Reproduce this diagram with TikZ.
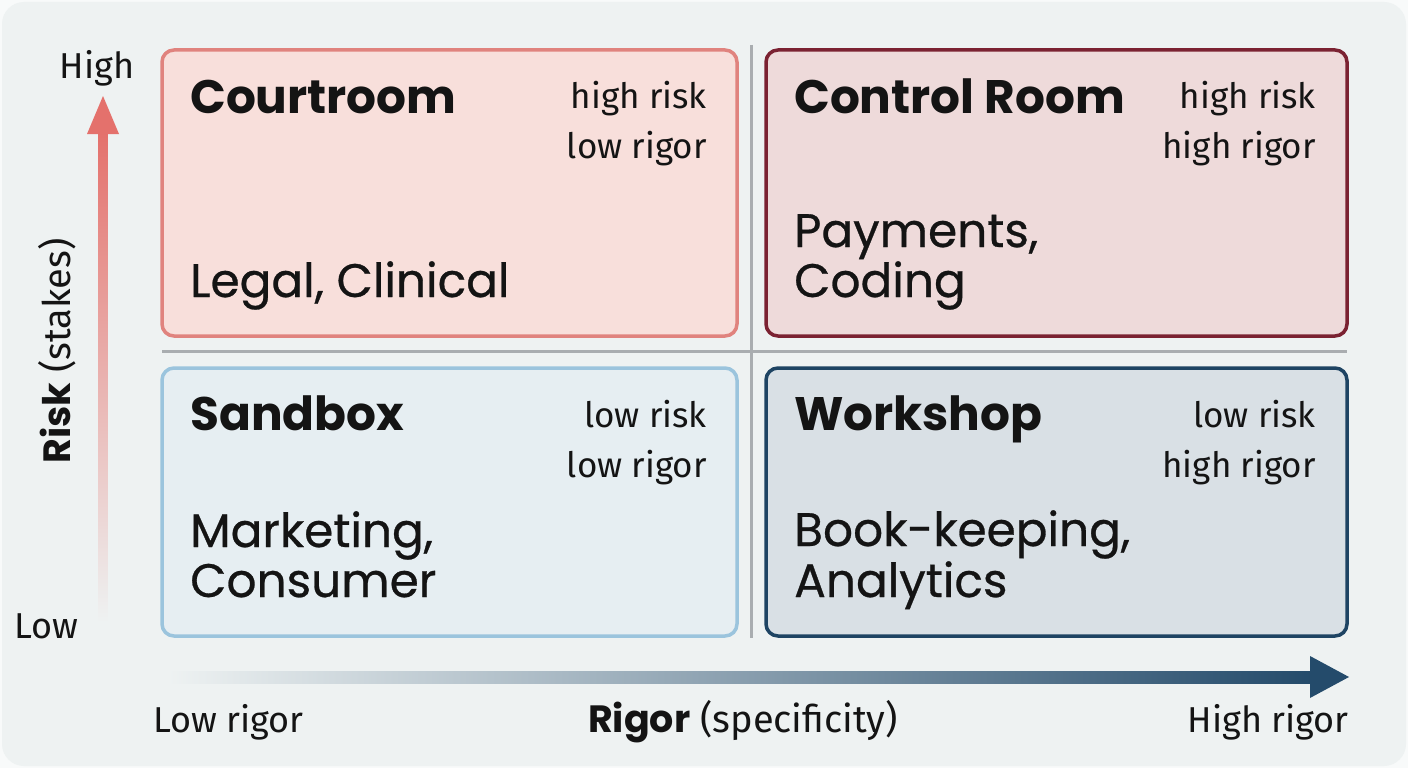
\documentclass[tikz,border=0pt]{standalone}
\usepackage{fontspec}
\setmainfont{Fira Sans}
\newfontfamily\headfont{Poppins}
\newfontfamily\fieldfont[FakeBold=0.6]{Poppins}
\usetikzlibrary{positioning}

\definecolor{pagebg}{HTML}{EEF2F2}
\definecolor{ink}{HTML}{141414}
\definecolor{divc}{HTML}{A9ADB0}
\definecolor{riskc}{HTML}{E4716C}
\definecolor{rigorc}{HTML}{244B6B}
\definecolor{courtfill}{HTML}{F8DFDB}
\definecolor{courtline}{HTML}{E0837E}
\definecolor{ctrlfill}{HTML}{EEDADA}
\definecolor{ctrlline}{HTML}{7B2232}
\definecolor{sandfill}{HTML}{E6EEF2}
\definecolor{sandline}{HTML}{9BC4DD}
\definecolor{workfill}{HTML}{D9E0E5}
\definecolor{workline}{HTML}{1E4463}

\begin{document}
\begin{tikzpicture}[x=1pt,y=-1pt,
  quad/.style={rounded corners=12pt, line width=3.5pt, inner sep=0pt},
  title/.style={font=\headfont\fontsize{47}{52}\selectfont\bfseries, anchor=base west, text=ink, inner sep=0pt},
  tag/.style={font=\fontsize{35}{38}\selectfont, anchor=base east, text=ink, inner sep=0pt},
  field/.style={font=\fieldfont\fontsize{47}{50}\selectfont, anchor=base west, text=ink, inner sep=0pt},
  axlabel/.style={font=\fontsize{36}{40}\selectfont, text=ink, inner sep=0pt},
  divider/.style={divc, line width=3pt}]

\useasboundingbox (0,0) rectangle (1408,768);

% Page
\fill[white!60!pagebg] (0,0) rectangle (1408,768);
\fill[pagebg, rounded corners=22pt] (2,2) rectangle (1406,766);

% Dividers
\coordinate (divTop) at (751,45);
\coordinate (divBot) at (751,638);
\coordinate (divLeft) at (162,351);
\coordinate (divRight) at (1347,351);
\draw[divider] (divTop) -- (divBot);
\draw[divider] (divLeft) -- (divRight);

% Quadrants
\node[quad, fill=courtfill, draw=courtline, minimum width=575pt, minimum height=286pt] (court) at (449.5,193) {};
\node[quad, fill=ctrlfill, draw=ctrlline, minimum width=581pt, minimum height=286pt] (ctrl) at (1056.5,193) {};
\node[quad, fill=sandfill, draw=sandline, minimum width=575pt, minimum height=268pt] (sand) at (449.5,502) {};
\node[quad, fill=workfill, draw=workline, minimum width=581pt, minimum height=268pt] (work) at (1056.5,502) {};

% Courtroom
\node[title] (courtT) at (190,113) {Courtroom};
\node[tag] (courtA) at (707,108) {high risk};
\node[tag] (courtB) at (707,158) {low rigor};
\node[field] (courtF) at (190,297) {Legal, Clinical};

% Control Room
\node[title] (ctrlT) at (794,113) {Control Room};
\node[tag] (ctrlA) at (1316,108) {high risk};
\node[tag] (ctrlB) at (1316,158) {high rigor};
\node[field] (ctrlF) at (794,247) {Payments,};
\node[field] (ctrlG) at (794,297) {Coding};

% Sandbox
\node[title] (sandT) at (190,430) {Sandbox};
\node[tag] (sandA) at (707,427) {low risk};
\node[tag] (sandB) at (707,477) {low rigor};
\node[field] (sandF) at (190,547) {Marketing,};
\node[field] (sandG) at (190,597) {Consumer};

% Workshop
\node[title] (workT) at (794,430) {Workshop};
\node[tag] (workA) at (1316,427) {low risk};
\node[tag] (workB) at (1316,477) {high rigor};
\node[field] (workF) at (794,546) {Book-keeping,};
\node[field] (workG) at (794,597) {Analytics};

% Risk axis
\coordinate (rskLow) at (103,622);
\coordinate (rskHigh) at (103,132);
\shade[bottom color=pagebg, top color=riskc] ([xshift=-4.5pt]rskLow) rectangle ([xshift=4.5pt]rskHigh);
\fill[riskc] (103,96) -- (119,134) -- (87,134) -- cycle;
\node[axlabel, anchor=base] (rskHi) at (97,78) {High};
\node[axlabel, anchor=base] (rskLo) at (46,638) {Low};
\node[axlabel, font=\fontsize{38}{40}\selectfont, anchor=base, rotate=90] (rskName) at (70,351) {{\headfont\bfseries Risk} (stakes)};

% Rigor axis
\coordinate (rgrLow) at (168,677);
\coordinate (rgrHigh) at (1312,677);
\shade[left color=pagebg, middle color=rigorc!55!pagebg, right color=rigorc] ([yshift=-6pt]rgrLow) rectangle ([yshift=6pt]rgrHigh);
\fill[rigorc] (1349,677) -- (1310,656) -- (1310,698) -- cycle;
\node[axlabel, anchor=base west] (rgrLo) at (153,732) {Low rigor};
\node[axlabel, font=\fontsize{38}{40}\selectfont, anchor=base] (rgrName) at (743,732) {{\headfont\bfseries Rigor} (specificity)};
\node[axlabel, anchor=base east] (rgrHi) at (1349,732) {High rigor};

\end{tikzpicture}
\end{document}
